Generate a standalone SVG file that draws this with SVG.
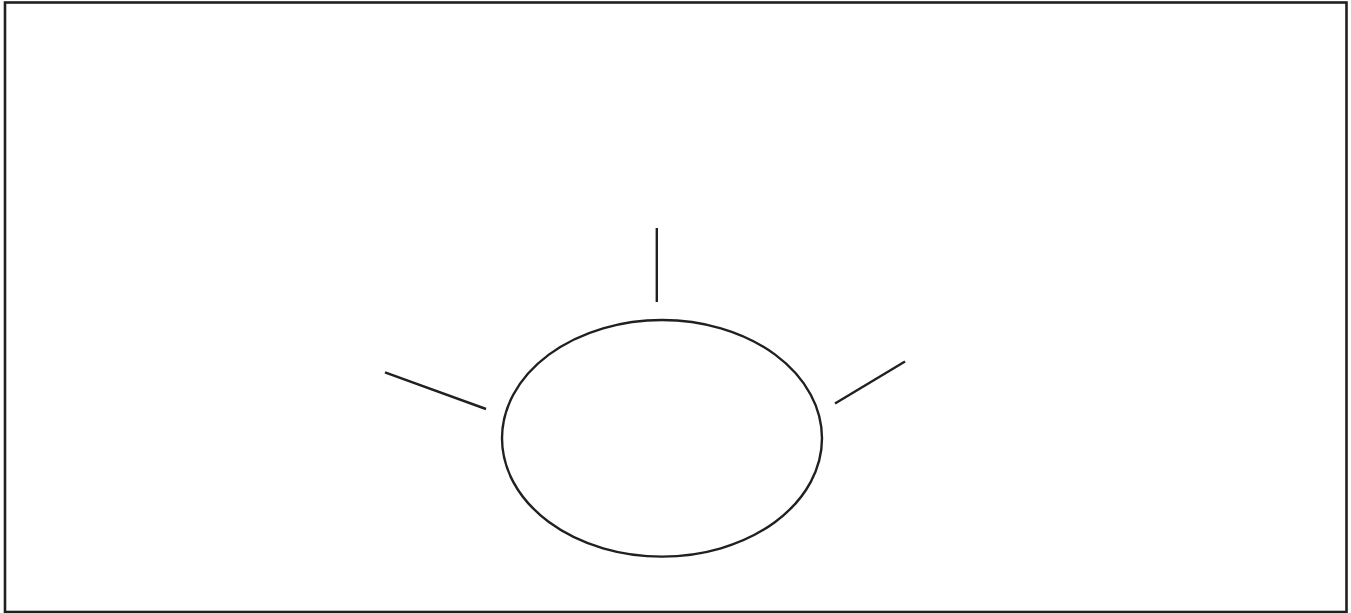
<svg xmlns="http://www.w3.org/2000/svg" width="1351" height="613" viewBox="0 0 1351 613">
<style>
.s{fill:none;stroke:#231f20;stroke-width:2.4}
</style>
<rect width="1351" height="613" fill="#ffffff"/>
<rect x="5" y="2.5" width="1341.5" height="609.5" fill="none" stroke="#231f20" stroke-width="2.6"/>
<g id="node-ellipse">
<ellipse class="s" cx="662" cy="438.3" rx="160" ry="118.3"/>
</g>
<g id="connectors">
<line class="s" x1="656.8" y1="228" x2="656.8" y2="302"/>
<line class="s" x1="385" y1="372.3" x2="486" y2="409"/>
<line class="s" x1="835" y1="403.5" x2="905" y2="361.5"/>
</g>
</svg>
